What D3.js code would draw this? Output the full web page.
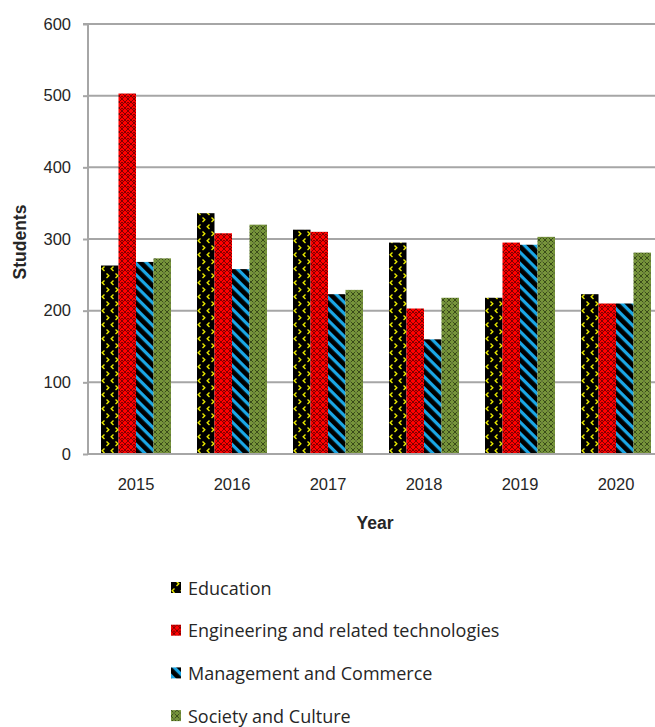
<!DOCTYPE html>
<html>
<head>
<meta charset="utf-8">
<script src="https://cdn.jsdelivr.net/npm/d3@7"></script>
<style>
  html, body { margin: 0; padding: 0; background: #fff; }
  svg { display: block; }
  text { font-family: "Open Sans", "Liberation Sans", sans-serif; fill: #262626; }
</style>
</head>
<body>
<svg id="chart" width="655" height="727"></svg>
<script>
// Students per field of education, by year
const years = ["2015", "2016", "2017", "2018", "2019", "2020"];
const seriesNames = [
  "Education",
  "Engineering and related technologies",
  "Management and Commerce",
  "Society and Culture"
];
const education   = [263, 336, 313, 295, 218, 223];
const engineering = [503, 308, 310, 203, 295, 210];
const management  = [268, 258, 223, 160, 292, 210];
const society     = [273, 320, 229, 218, 303, 281];
const yTicks = [0, 100, 200, 300, 400, 500, 600];

const seriesValues = [education, engineering, management, society];
const patternIds = ["pEdu", "pEng", "pMgmt", "pSoc"];

const svg = d3.select("#chart");
const margin = { left: 88, top: 24, right: 664, bottom: 454 };

// ---- fill patterns ----
const defs = svg.append("defs");

// Education: black with small yellow chevrons
const pe = defs.append("pattern").attr("id", "pEdu")
  .attr("patternUnits", "userSpaceOnUse").attr("width", 9).attr("height", 14);
pe.append("rect").attr("width", 9).attr("height", 14).attr("fill", "#000");
pe.append("path").attr("d", "M3.5,0.5 L1.2,2.8 L3.5,5").attr("fill", "none")
  .attr("stroke", "#e8e800").attr("stroke-width", 1.4);
pe.append("path").attr("d", "M5.5,7.5 L7.8,9.8 L5.5,12").attr("fill", "none")
  .attr("stroke", "#e8e800").attr("stroke-width", 1.4);

// Engineering: red with dark diamond lattice
const pr = defs.append("pattern").attr("id", "pEng")
  .attr("patternUnits", "userSpaceOnUse").attr("width", 6).attr("height", 6);
pr.append("rect").attr("width", 6).attr("height", 6).attr("fill", "#ff0000");
pr.append("path").attr("d", "M0,0 L6,6 M6,0 L0,6").attr("stroke", "#5a0000")
  .attr("stroke-width", 0.9).attr("opacity", 0.85);
pr.append("rect").attr("x", 2.4).attr("y", 0).attr("width", 1.2).attr("height", 1.2).attr("fill", "#300");

// Management: black with blue diagonal stripes running down to the right
const pm = defs.append("pattern").attr("id", "pMgmt")
  .attr("patternUnits", "userSpaceOnUse").attr("width", 8).attr("height", 8)
  .attr("patternTransform", "rotate(45)");
pm.append("rect").attr("width", 8).attr("height", 8).attr("fill", "#000");
pm.append("rect").attr("x", 0).attr("y", 0).attr("width", 8).attr("height", 3.2).attr("fill", "#1aa7e6");

// Society: olive green with dark lattice
const ps = defs.append("pattern").attr("id", "pSoc")
  .attr("patternUnits", "userSpaceOnUse").attr("width", 6).attr("height", 6);
ps.append("rect").attr("width", 6).attr("height", 6).attr("fill", "#76943a");
ps.append("path").attr("d", "M0,0 L6,6 M6,0 L0,6").attr("stroke", "#27340f")
  .attr("stroke-width", 0.9).attr("opacity", 0.85);
ps.append("rect").attr("x", 2.4).attr("y", 2.4).attr("width", 1.2).attr("height", 1.2).attr("fill", "#a9c46a");

// ---- scales ----
const x = d3.scaleBand().domain(years)
  .range([margin.left, margin.right])
  .paddingInner(26 / 96).paddingOuter(13 / 96);
const xs = d3.scaleBand().domain(d3.range(seriesNames.length))
  .range([0, x.bandwidth()]);
const y = d3.scaleLinear().domain([0, 600]).range([margin.bottom, margin.top]);

// ---- gridlines ----
svg.append("g").selectAll("line").data(yTicks.filter(d => d > 0)).join("line")
  .attr("x1", margin.left).attr("x2", 655)
  .attr("y1", d => y(d)).attr("y2", d => y(d))
  .attr("stroke", "#a6a6a6").attr("stroke-width", 2);

// ---- bars ----
const groups = svg.append("g").selectAll("g").data(years).join("g")
  .attr("transform", d => `translate(${x(d)},0)`);
groups.selectAll("rect")
  .data((yr, i) => seriesValues.map((vals, s) => ({ s, v: vals[i] })))
  .join("rect")
  .attr("x", d => xs(d.s))
  .attr("width", xs.bandwidth())
  .attr("y", d => y(d.v))
  .attr("height", d => y(0) - y(d.v))
  .attr("fill", d => `url(#${patternIds[d.s]})`);

// ---- axes ----
const yAxis = d3.axisLeft(y).tickValues(yTicks).tickSize(5).tickPadding(12);
const ya = svg.append("g").attr("transform", `translate(${margin.left},0)`).call(yAxis);
ya.select(".domain").attr("stroke", "#a6a6a6").attr("stroke-width", 2)
  .attr("d", `M-5,${margin.top}H0V${margin.bottom}`);
ya.selectAll(".tick line").attr("stroke", "#a6a6a6").attr("stroke-width", 2);
ya.selectAll(".tick text").style("font-size", "16.5px").style("font-family", "Liberation Sans, sans-serif").attr("fill", "#262626");

const xAxis = d3.axisBottom(x).tickSize(0).tickPadding(24);
const xa = svg.append("g").attr("transform", `translate(0,${margin.bottom})`).call(xAxis);
xa.select(".domain").attr("stroke", "#a6a6a6").attr("stroke-width", 2)
  .attr("d", `M${margin.left},0H655`);
xa.selectAll(".tick text").style("font-size", "16.5px").style("font-family", "Liberation Sans, sans-serif").attr("fill", "#262626");

// ---- axis titles ----
svg.append("text").attr("x", 375).attr("y", 529)
  .attr("text-anchor", "middle").style("font-size", "17.5px").style("font-weight", "bold")
  .style("font-family", "Liberation Sans, sans-serif")
  .text("Year");
svg.append("text").attr("transform", "translate(26,242) rotate(-90)")
  .attr("text-anchor", "middle").style("font-size", "17.5px").style("font-weight", "bold")
  .style("font-family", "Liberation Sans, sans-serif")
  .text("Students");

// ---- legend ----
const legend = svg.append("g").selectAll("g").data(seriesNames).join("g")
  .attr("transform", (d, i) => `translate(171,${588 + i * 42.7})`);
legend.append("rect").attr("x", 0).attr("y", -6).attr("width", 10).attr("height", 11)
  .attr("fill", (d, i) => `url(#${patternIds[i]})`);
legend.append("text").attr("x", 17).attr("y", 6.5)
  .style("font-size", "18px")
  .text(d => d);
</script>
</body>
</html>
